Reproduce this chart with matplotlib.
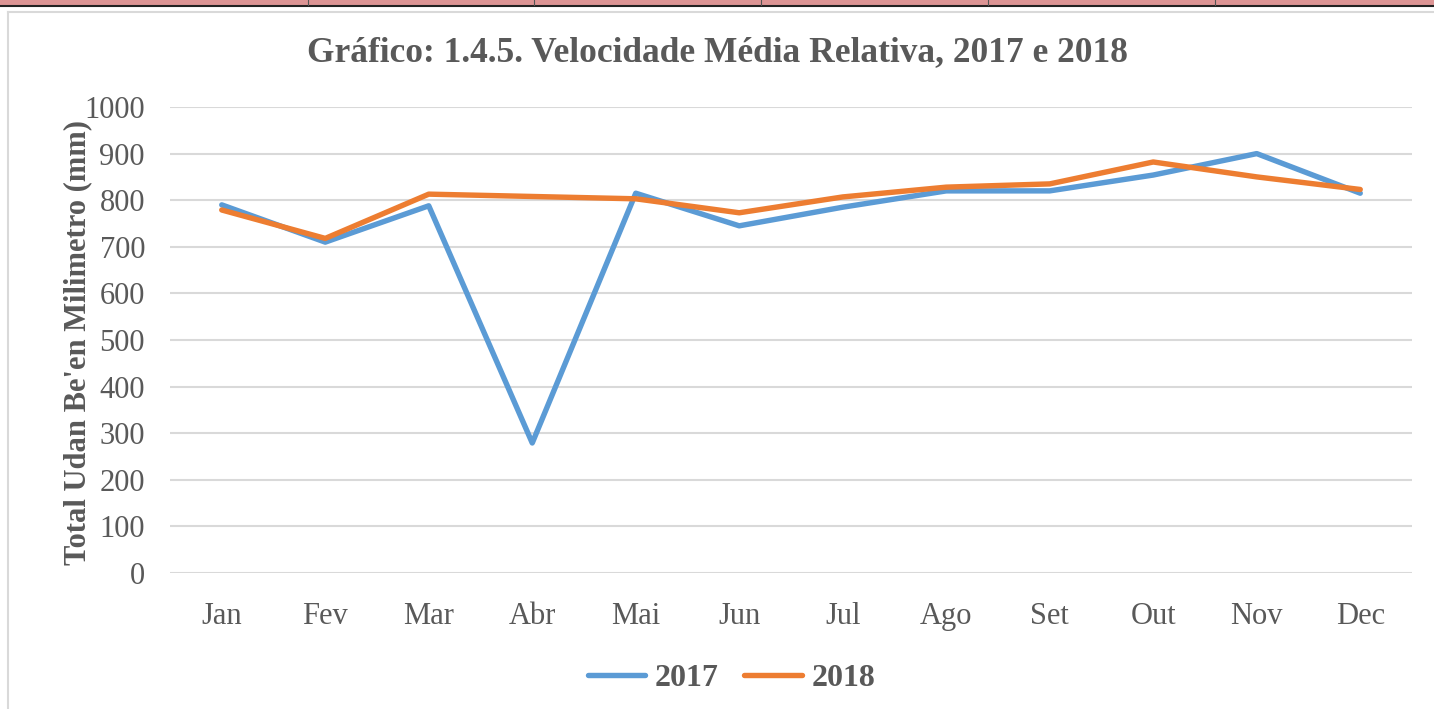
import matplotlib.pyplot as plt
from matplotlib.lines import Line2D
from matplotlib.patches import Rectangle

# dados
meses = ["Jan", "Fev", "Mar", "Abr", "Mai", "Jun", "Jul", "Ago", "Set", "Out", "Nov", "Dec"]
v2017 = [790, 710, 788, 279, 815, 745, 785, 820, 820, 854, 900, 815]
v2018 = [779, 718, 813, 808, 803, 773, 807, 828, 835, 882, 850, 823]

cinza = "#595959"
plt.rcParams["font.family"] = ["Liberation Serif", "DejaVu Serif"]

fig = plt.figure(figsize=(14.34, 7.09), dpi=100)

# faixa da tabela em cima e moldura do grafico
fig.patches.append(Rectangle((0, 1 - 5 / 709), 1, 5 / 709, transform=fig.transFigure,
                             facecolor="#dc9494", edgecolor="none"))
fig.add_artist(Line2D([0, 1], [1 - 6 / 709] * 2, color="#222222", lw=1.5))
for xc in [308, 534, 761, 988, 1215]:
    fig.add_artist(Line2D([xc / 1434] * 2, [1 - 5 / 709, 1], color="#555555", lw=0.8))
fig.add_artist(Line2D([8 / 1434, 1], [1 - 12 / 709] * 2, color="#d9d9d9", lw=1.5))
fig.add_artist(Line2D([8 / 1434] * 2, [0, 1 - 12 / 709], color="#d9d9d9", lw=1.5))

ax = fig.add_axes([170 / 1434, 1 - 573 / 709, 1242 / 1434, 466 / 709])
x = range(len(meses))
ax.plot(x, v2017, color="#5b9bd5", lw=3.9, label="2017", solid_capstyle="round", solid_joinstyle="round")
ax.plot(x, v2018, color="#ed7d31", lw=3.9, label="2018", solid_capstyle="round", solid_joinstyle="round")

ax.set_xlim(-0.5, 11.5)
ax.set_ylim(0, 1000)
ax.set_yticks(range(0, 1001, 100))
ax.set_xticks(list(x))
ax.set_xticklabels(meses)
ax.grid(axis="y", color="#d9d9d9", lw=1.5)
ax.set_axisbelow(True)
for s in ax.spines.values():
    s.set_visible(False)
ax.tick_params(length=0, labelsize=22, colors=cinza)
ax.tick_params(axis="x", pad=21)
ax.tick_params(axis="y", pad=18)

ax.set_ylabel("Total Udan Be'en Milimetro (mm)", fontsize=22, fontweight="bold", color=cinza)
ax.yaxis.set_label_coords(-0.063, 0.495)
fig.text(0.5, 1 - 53 / 709, "Gráfico: 1.4.5. Velocidade Média Relativa, 2017 e 2018",
         ha="center", va="center", fontsize=25.5, fontweight="bold", color=cinza)

leg = fig.legend(loc="center", bbox_to_anchor=(0.510, 1 - 678 / 709), ncol=2, frameon=False,
                 prop={"size": 23, "weight": "bold"}, handlelength=1.8, handletextpad=0.3,
                 columnspacing=0.8, labelcolor=cinza)

fig.savefig("out.png", dpi=100)
